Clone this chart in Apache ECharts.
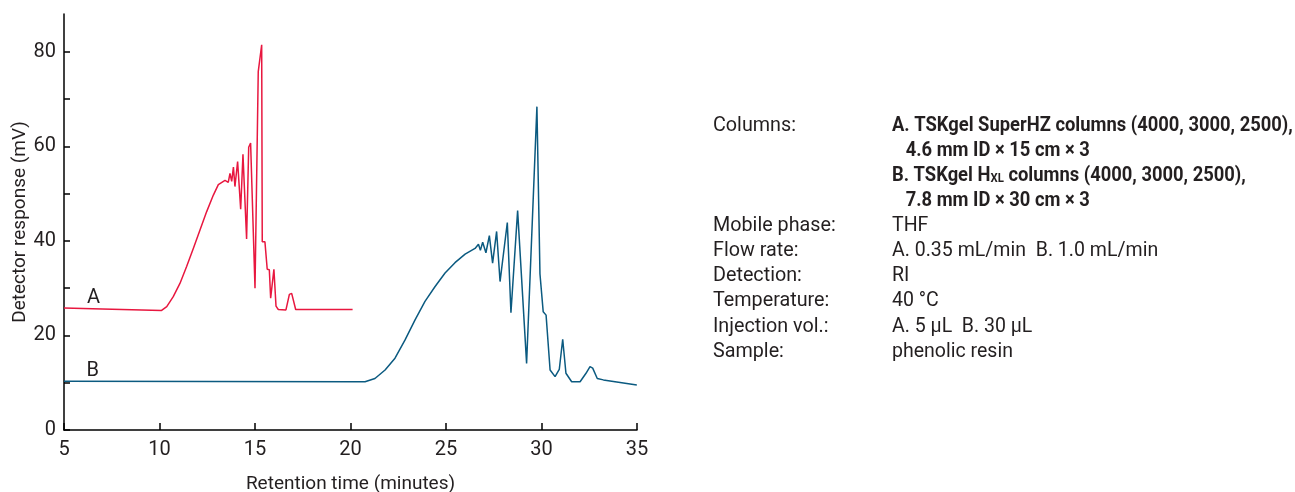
<!DOCTYPE html>
<html>
<head>
<meta charset="utf-8">
<script src="https://cdn.jsdelivr.net/npm/echarts@6/dist/echarts.min.js"></script>
<style>
html, body { margin: 0; padding: 0; background: #fff; }
#chart { width: 1295px; height: 492px; }
</style>
</head>
<body>
<div id="chart"></div>
<script>
var FONT = 'Roboto, "Noto Sans", sans-serif';

// 曲线 A (SuperHZ)
var aTime = [5, 7, 10.11, 10.38, 10.72, 11.07, 11.42, 11.77, 12.12, 12.47, 12.82, 13.08, 13.43,
    13.6, 13.69, 13.78, 13.87, 13.95, 14.09, 14.25, 14.37, 14.56, 14.67, 14.77, 15.0,
    15.17, 15.35, 15.38, 15.52, 15.64, 15.75, 15.82, 15.89, 15.99, 16.1, 16.22, 16.62,
    16.8, 16.92, 17.13, 20.11];
var aValue = [25.8, 25.6, 25.3, 26.1, 28.2, 31.0, 34.6, 38.4, 42.3, 46.2, 49.7, 51.9, 52.8,
    52.4, 54.3, 52.6, 55.6, 51.5, 56.8, 46.7, 58.3, 40.4, 59.8, 60.7, 30.0,
    75.8, 81.5, 39.8, 39.8, 34.0, 33.9, 27.9, 27.5, 34.0, 26.2, 25.5, 25.4,
    28.7, 28.9, 25.5, 25.5];

// 曲线 B (HXL)
var bTime = [5, 20.24, 20.76, 21.28, 21.81, 22.33, 22.85, 23.38, 23.9, 24.42, 24.95, 25.47,
    26.0, 26.52, 26.7, 26.8, 26.92, 27.09, 27.27, 27.44, 27.65, 27.83, 28.21, 28.4, 28.75,
    29.22, 29.76, 29.92, 30.09, 30.24, 30.45, 30.71, 30.93, 31.11, 31.28, 31.58, 32.02,
    32.33, 32.54, 32.68, 32.92, 33.24, 34.99];
var bValue = [10.3, 10.2, 10.2, 10.9, 12.7, 15.2, 19.0, 23.3, 27.2, 30.3, 33.2, 35.4,
    37.2, 38.4, 39.3, 38.0, 39.7, 37.5, 41.1, 35.3, 42.0, 31.4, 43.9, 24.8, 46.4,
    14.1, 68.4, 33.0, 25.0, 24.3, 12.7, 11.3, 12.8, 19.2, 12.0, 10.2, 10.2,
    12.0, 13.4, 13.1, 10.9, 10.6, 9.5];

var xTicks = [5, 10, 15, 20, 25, 30, 35];
var yTicks = [0, 10, 20, 30, 40, 50, 60, 70, 80];
var yLabels = [0, 20, 40, 60, 80];

// 右侧条件说明
var condLabels = ['Columns:', '', '', '', 'Mobile phase:', 'Flow rate:', 'Detection:',
    'Temperature:', 'Injection vol.:', 'Sample:'];
var condValues = [
    'A. TSKgel SuperHZ columns (4000, 3000, 2500),',
    '   4.6 mm ID × 15 cm × 3',
    'B. TSKgel H{s|XL} columns (4000, 3000, 2500),',
    '   7.8 mm ID × 30 cm × 3',
    'THF',
    'A. 0.35 mL/min  B. 1.0 mL/min',
    'RI',
    '40 °C',
    'A. 5 µL  B. 30 µL',
    'phenolic resin'
];
var condBold = [true, true, true, true, false, false, false, false, false, false];

function pairs(xs, ys) {
    return xs.map(function (x, i) { return [x, ys[i]]; });
}

var chart = echarts.init(document.getElementById('chart'));

var graphics = [];
condLabels.forEach(function (t, i) {
    var y = 126 + i * 25.1 - 11;
    if (t) {
        graphics.push({
            type: 'text', x: 713, y: y, scaleX: 0.94,
            style: { text: t, font: '21px ' + FONT, fill: '#231f20' }
        });
    }
    var bold = condBold[i];
    graphics.push({
        type: 'text', x: 892, y: y, scaleX: bold ? 0.875 : 0.93,
        style: {
            text: condValues[i],
            font: (bold ? 'bold ' : '') + '21px ' + FONT,
            fill: '#231f20',
            rich: {
                s: { fontWeight: 'bold', fontSize: 13, fontFamily: FONT, padding: [6, 0, 0, 0], color: '#231f20' }
            }
        }
    });
});

chart.setOption({
    animation: false,
    textStyle: { fontFamily: FONT },
    grid: { left: 64, right: 658, top: 14, bottom: 62, outerBoundsMode: 'none' },
    graphic: graphics,
    xAxis: {
        type: 'value',
        min: 5,
        max: 35,
        interval: 5,
        name: 'Retention time (minutes)',
        nameLocation: 'middle',
        nameGap: 45,
        nameTextStyle: { fontSize: 19, color: '#231f20', fontFamily: FONT },
        axisLine: { lineStyle: { color: '#000', width: 1.5 } },
        axisTick: { inside: true, length: 7, lineStyle: { color: '#000', width: 1.5 }, customValues: xTicks },
        axisLabel: { fontSize: 20, color: '#231f20', margin: 10, customValues: xTicks },
        splitLine: { show: false }
    },
    yAxis: {
        type: 'value',
        min: 0,
        max: 88,
        name: 'Detector response (mV)',
        nameLocation: 'middle',
        nameRotate: 90,
        nameGap: 34,
        nameTextStyle: { fontSize: 19, color: '#231f20', fontFamily: FONT },
        axisLine: { show: true, lineStyle: { color: '#000', width: 1.5 } },
        axisTick: { show: true, inside: true, length: 6, lineStyle: { color: '#000', width: 1.5 }, customValues: yTicks },
        axisLabel: { fontSize: 20, color: '#231f20', margin: 8, customValues: yLabels },
        splitLine: { show: false }
    },
    series: [
        {
            name: 'A',
            type: 'line',
            data: pairs(aTime, aValue),
            showSymbol: false,
            lineStyle: { color: '#e8173f', width: 1.5 },
            markPoint: {
                symbolSize: 0,
                label: { show: true, formatter: 'A', fontSize: 20, color: '#231f20' },
                data: [{ coord: [6.55, 27.9] }]
            }
        },
        {
            name: 'B',
            type: 'line',
            data: pairs(bTime, bValue),
            showSymbol: false,
            lineStyle: { color: '#0b5a80', width: 1.5 },
            markPoint: {
                symbolSize: 0,
                label: { show: true, formatter: 'B', fontSize: 20, color: '#231f20' },
                data: [{ coord: [6.5, 12.4] }]
            }
        }
    ]
});
</script>
</body>
</html>
